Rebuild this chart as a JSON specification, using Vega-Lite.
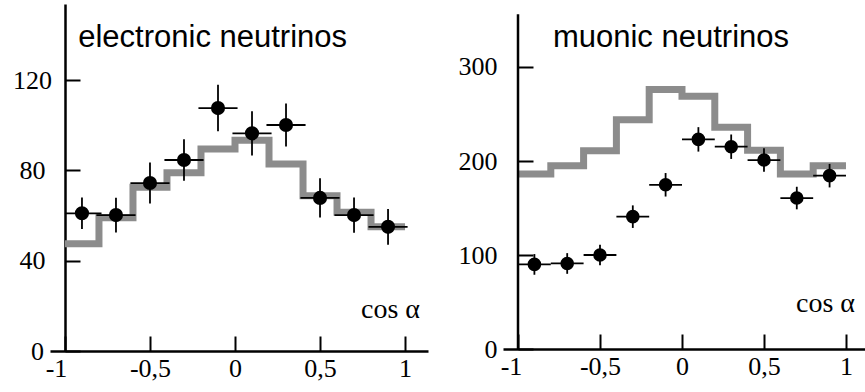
{
  "$schema": "https://vega.github.io/schema/vega-lite/v6.json",
  "background": "white",
  "padding": {"left": 12, "top": 4, "right": 0, "bottom": 0},
  "autosize": {"type": "pad"},
  "spacing": 30,
  "config": {
    "view": {"stroke": null},
    "axis": {"grid": false, "domainColor": "black", "tickColor": "black", "labelColor": "black", "domainWidth": 2.5, "tickWidth": 2, "labelFont": "Liberation Serif", "labelFontSize": 26}
  },
  "datasets": {
    "e_model": [
      {"x": -1.0, "y": 47.5}, {"x": -0.8, "y": 59}, {"x": -0.6, "y": 72.5}, {"x": -0.4, "y": 79},
      {"x": -0.2, "y": 89.5}, {"x": 0.0, "y": 93.3}, {"x": 0.2, "y": 82.8}, {"x": 0.4, "y": 68.8},
      {"x": 0.6, "y": 61.5}, {"x": 0.8, "y": 55}, {"x": 1.0, "y": 55}
    ],
    "e_points": [
      {"x": -0.9, "y": 61, "ylo": 54, "yhi": 68, "xlo": -1.0, "xhi": -0.785},
      {"x": -0.7, "y": 60.2, "ylo": 52.5, "yhi": 67.9, "xlo": -0.815, "xhi": -0.585},
      {"x": -0.5, "y": 74.4, "ylo": 65.3, "yhi": 83.5, "xlo": -0.615, "xhi": -0.385},
      {"x": -0.3, "y": 84.6, "ylo": 75.4, "yhi": 93.8, "xlo": -0.415, "xhi": -0.185},
      {"x": -0.1, "y": 107.6, "ylo": 97.3, "yhi": 117.9, "xlo": -0.215, "xhi": 0.015},
      {"x": 0.1, "y": 96.4, "ylo": 86.6, "yhi": 106.2, "xlo": -0.015, "xhi": 0.215},
      {"x": 0.3, "y": 100.1, "ylo": 90.6, "yhi": 109.6, "xlo": 0.185, "xhi": 0.415},
      {"x": 0.5, "y": 67.8, "ylo": 59.1, "yhi": 76.5, "xlo": 0.385, "xhi": 0.615},
      {"x": 0.7, "y": 60.2, "ylo": 52.4, "yhi": 68, "xlo": 0.585, "xhi": 0.815},
      {"x": 0.9, "y": 55, "ylo": 47.1, "yhi": 62.9, "xlo": 0.785, "xhi": 1.015}
    ],
    "mu_model": [
      {"x": -1.0, "y": 186.2}, {"x": -0.8, "y": 195}, {"x": -0.6, "y": 211}, {"x": -0.4, "y": 244},
      {"x": -0.2, "y": 276}, {"x": 0.0, "y": 269}, {"x": 0.2, "y": 235.8}, {"x": 0.4, "y": 211.5},
      {"x": 0.6, "y": 186.2}, {"x": 0.8, "y": 195}, {"x": 1.0, "y": 195}
    ],
    "mu_points": [
      {"x": -0.9, "y": 90, "ylo": 79, "yhi": 101, "xlo": -1.0, "xhi": -0.8},
      {"x": -0.7, "y": 91, "ylo": 80, "yhi": 102, "xlo": -0.8, "xhi": -0.6},
      {"x": -0.5, "y": 100, "ylo": 89, "yhi": 111, "xlo": -0.6, "xhi": -0.4},
      {"x": -0.3, "y": 140.8, "ylo": 128.8, "yhi": 152.8, "xlo": -0.4, "xhi": -0.2},
      {"x": -0.1, "y": 174.7, "ylo": 162.2, "yhi": 187.2, "xlo": -0.2, "xhi": 0.0},
      {"x": 0.1, "y": 223, "ylo": 210, "yhi": 236, "xlo": 0.0, "xhi": 0.2},
      {"x": 0.3, "y": 215.2, "ylo": 202.2, "yhi": 228.2, "xlo": 0.2, "xhi": 0.4},
      {"x": 0.5, "y": 201, "ylo": 188.5, "yhi": 213.5, "xlo": 0.4, "xhi": 0.6},
      {"x": 0.7, "y": 160.6, "ylo": 148.6, "yhi": 172.6, "xlo": 0.6, "xhi": 0.8},
      {"x": 0.9, "y": 184.4, "ylo": 171.9, "yhi": 196.9, "xlo": 0.8, "xhi": 1.0}
    ]
  },
  "hconcat": [
    {
      "width": 378,
      "height": 347,
      "layer": [
        {
          "data": {"name": "e_model"},
          "mark": {"type": "line", "interpolate": "step-after", "color": "#8c8c8c", "strokeWidth": 7, "strokeJoin": "miter", "strokeCap": "butt"},
          "encoding": {
            "x": {"field": "x", "type": "quantitative", "title": null, "scale": {"domain": [-1.088, 1.135], "nice": false, "zero": false},
              "axis": {"values": [-1, -0.5, 0, 0.5, 1], "tickSize": -15, "labelPadding": 19, "labelFlush": false, "labelOverlap": false,
                "labelExpr": "replace(toString(datum.value), '.', ',')",
                "labelOffset": {"condition": {"test": "datum.value == -1", "value": -9}, "value": 0}}},
            "y": {"field": "y", "type": "quantitative", "title": null, "scale": {"domain": [0, 153.7], "nice": false, "zero": false},
              "axis": {"values": [0, 40, 80, 120], "offset": -15, "tickSize": -15, "labelAlign": "center", "labelBaseline": "middle",
                "labelPadding": {"condition": {"test": "datum.value == 0", "value": 43}, "value": 48}}}
          }
        },
        {
          "data": {"name": "e_points"},
          "mark": {"type": "rule", "color": "black", "strokeWidth": 1.8},
          "encoding": {
            "x": {"field": "x", "type": "quantitative", "title": null},
            "y": {"field": "ylo", "type": "quantitative", "title": null},
            "y2": {"field": "yhi"}
          }
        },
        {
          "data": {"name": "e_points"},
          "mark": {"type": "rule", "color": "black", "strokeWidth": 1.8},
          "encoding": {
            "x": {"field": "xlo", "type": "quantitative", "title": null},
            "x2": {"field": "xhi"},
            "y": {"field": "y", "type": "quantitative", "title": null}
          }
        },
        {
          "data": {"name": "e_points"},
          "mark": {"type": "circle", "color": "black", "opacity": 1, "size": 200},
          "encoding": {
            "x": {"field": "x", "type": "quantitative", "title": null},
            "y": {"field": "y", "type": "quantitative", "title": null}
          }
        },
        {
          "data": {"values": [{"label": "electronic neutrinos"}]},
          "mark": {"type": "text", "align": "left", "baseline": "alphabetic", "font": "Liberation Sans", "fontSize": 31, "color": "black"},
          "encoding": {
            "x": {"datum": -0.922, "type": "quantitative"},
            "y": {"datum": 134.5, "type": "quantitative"},
            "text": {"field": "label"}
          }
        },
        {
          "data": {"values": [{"label": "cos α"}]},
          "mark": {"type": "text", "align": "right", "baseline": "alphabetic", "font": "Liberation Serif", "fontSize": 28, "color": "black"},
          "encoding": {
            "x": {"datum": 1.088, "type": "quantitative"},
            "y": {"datum": 14.5, "type": "quantitative"},
            "text": {"field": "label"}
          }
        }
      ]
    },
    {
      "width": 362,
      "height": 347,
      "layer": [
        {
          "data": {"name": "mu_model"},
          "mark": {"type": "line", "interpolate": "step-after", "color": "#8c8c8c", "strokeWidth": 7, "strokeJoin": "miter", "strokeCap": "butt"},
          "encoding": {
            "x": {"field": "x", "type": "quantitative", "title": null, "scale": {"domain": [-1.0915, 1.116], "nice": false, "zero": false},
              "axis": {"values": [-1, -0.5, 0, 0.5, 1], "offset": -2, "tickSize": -15, "labelPadding": 19, "labelFlush": false, "labelOverlap": false,
                "labelExpr": "replace(toString(datum.value), '.', ',')",
                "labelOffset": {"condition": {"test": "datum.value == -1", "value": -7}, "value": 0}}},
            "y": {"field": "y", "type": "quantitative", "title": null, "scale": {"domain": [-2.1, 367], "nice": false, "zero": false},
              "axis": {"values": [0, 100, 200, 300], "offset": -15, "tickSize": -15, "domain": false, "labelAlign": "right", "labelBaseline": "middle", "labelPadding": 36}}
          }
        },
        {
          "data": {"values": [{}]},
          "mark": {"type": "rule", "color": "black", "strokeWidth": 2.5},
          "encoding": {
            "x": {"datum": -1, "type": "quantitative"},
            "y": {"datum": 0, "type": "quantitative"},
            "y2": {"datum": 356}
          }
        },
        {
          "data": {"name": "mu_points"},
          "mark": {"type": "rule", "color": "black", "strokeWidth": 1.8},
          "encoding": {
            "x": {"field": "x", "type": "quantitative", "title": null},
            "y": {"field": "ylo", "type": "quantitative", "title": null},
            "y2": {"field": "yhi"}
          }
        },
        {
          "data": {"name": "mu_points"},
          "mark": {"type": "rule", "color": "black", "strokeWidth": 1.8},
          "encoding": {
            "x": {"field": "xlo", "type": "quantitative", "title": null},
            "x2": {"field": "xhi"},
            "y": {"field": "y", "type": "quantitative", "title": null}
          }
        },
        {
          "data": {"name": "mu_points"},
          "mark": {"type": "circle", "color": "black", "opacity": 1, "size": 185},
          "encoding": {
            "x": {"field": "x", "type": "quantitative", "title": null},
            "y": {"field": "y", "type": "quantitative", "title": null}
          }
        },
        {
          "data": {"values": [{"label": "muonic neutrinos"}]},
          "mark": {"type": "text", "align": "left", "baseline": "alphabetic", "font": "Liberation Sans", "fontSize": 31, "color": "black"},
          "encoding": {
            "x": {"datum": -0.787, "type": "quantitative"},
            "y": {"datum": 321.3, "type": "quantitative"},
            "text": {"field": "label"}
          }
        },
        {
          "data": {"values": [{"label": "cos α"}]},
          "mark": {"type": "text", "align": "right", "baseline": "alphabetic", "font": "Liberation Serif", "fontSize": 28, "color": "black"},
          "encoding": {
            "x": {"datum": 1.055, "type": "quantitative"},
            "y": {"datum": 39.4, "type": "quantitative"},
            "text": {"field": "label"}
          }
        }
      ]
    }
  ]
}
